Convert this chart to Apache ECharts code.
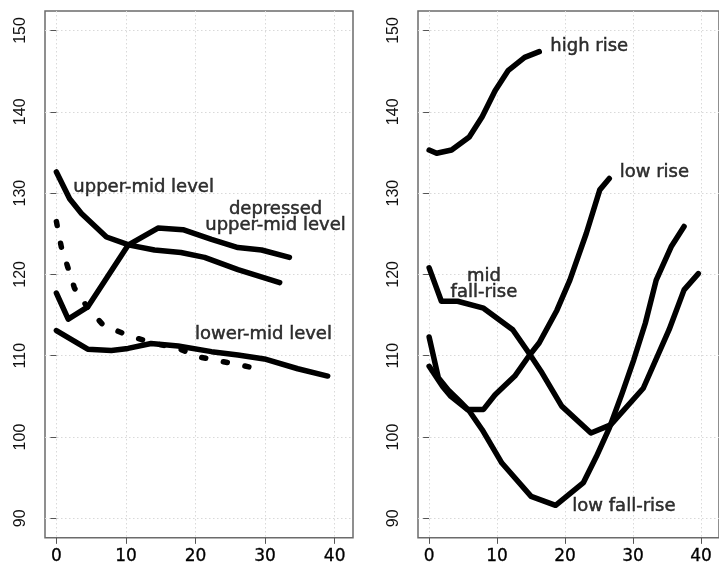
<!DOCTYPE html>
<html><head><meta charset="utf-8">
<script src="https://cdn.jsdelivr.net/npm/echarts@6/dist/echarts.min.js"></script>
<style>html,body{margin:0;padding:0;background:#fff}#c{width:719px;height:565px}</style>
</head><body><div id="c"></div>
<script>
// ---- data ----
const xTicks = [0, 10, 20, 30, 40];
const yTicks = [90, 100, 110, 120, 130, 140, 150];

// left panel
const upperMidX = [0, 1.9, 3.6, 7.2, 10.5, 14.1, 17.9, 21.3, 26.1, 32.1];
const upperMidY = [132.6, 129.3, 127.5, 124.6, 123.6, 123.0, 122.7, 122.1, 120.6, 119.0];
const depressedX = [0, 1.7, 4.5, 10.3, 14.6, 18.2, 22.3, 26.1, 29.5, 33.5];
const depressedY = [117.7, 114.5, 116.0, 123.6, 125.7, 125.5, 124.3, 123.3, 123.0, 122.1];
const lowerMidX = [0, 4.5, 7.9, 10.3, 13.6, 17.5, 22.3, 26.1, 29.9, 34.7, 39.0];
const lowerMidY = [113.1, 110.8, 110.65, 110.9, 111.5, 111.2, 110.5, 110.1, 109.6, 108.4, 107.5];
const dashedX = [0, 0.7, 1.6, 2.6, 4.5, 6.7, 10, 13.6, 17.5, 20.8, 24.4, 29];
const dashedY = [126.5, 123.4, 121.0, 118.3, 115.9, 113.8, 112.6, 111.6, 110.9, 109.8, 109.2, 108.4];

// right panel
const highRiseX = [0, 1.1, 3.3, 5.9, 7.8, 9.7, 11.65, 14.05, 16.2];
const highRiseY = [135.3, 134.9, 135.3, 136.9, 139.4, 142.6, 145.1, 146.7, 147.4];
const lowRiseX = [0, 2.0, 3.2, 5.6, 8.0, 9.7, 12.6, 14.7, 16.2, 18.8, 20.7, 23.1, 25.1, 26.5];
const lowRiseY = [108.7, 106.2, 105.0, 103.4, 103.4, 105.2, 107.5, 110.0, 111.6, 115.6, 119.3, 125.0, 130.4, 131.8];
const lowFallRiseX = [0, 1.35, 2.8, 4.5, 5.9, 7.8, 10.7, 15.0, 18.6, 22.7, 24.6, 26.5, 28.4, 30.1, 31.8, 33.4, 35.6, 37.5];
const lowFallRiseY = [112.3, 107.3, 105.8, 104.4, 103.2, 100.9, 96.8, 92.7, 91.6, 94.4, 97.6, 101.1, 105.4, 109.5, 114.0, 119.3, 123.4, 125.9];
const midFallRiseX = [0, 1.8, 4.2, 8.0, 12.3, 14.7, 16.6, 19.5, 23.8, 26.7, 31.5, 35.3, 37.5, 39.6];
const midFallRiseY = [120.8, 116.7, 116.7, 115.85, 113.2, 110.3, 107.9, 103.8, 100.5, 101.5, 106.0, 113.2, 118.1, 120.1];

// annotations (data coordinates)
const leftLabels = ['upper-mid level', 'depressed\nupper-mid level', 'lower-mid level'];
const leftLabelX = [12.54, 31.5, 29.76];
const leftLabelY = [130.74, 127.0, 112.6];
const rightLabels = ['high rise', 'low rise', 'mid\nfall-rise', 'low fall-rise'];
const rightLabelX = [23.55, 33.13, 8.06, 28.65];
const rightLabelY = [148.04, 132.58, 118.8, 91.47];

// ---- chart ----
const zip = (xs, ys) => xs.map((x, i) => [x, ys[i]]);
const X_MIN = -1.64, X_MAX = 42.64, Y_MIN = 87.6, Y_MAX = 152.4;
const gridLine = { show: true, lineStyle: { color: '#d9d9d9', type: [1.5, 2.5], width: 1 } };

function xAxisDef(g) {
  return {
    type: 'value', gridIndex: g, min: X_MIN, max: X_MAX,
    axisLine: { show: false },
    axisTick: { show: true, length: 6, customValues: xTicks, lineStyle: { color: '#555', width: 1 } },
    axisLabel: { customValues: xTicks, margin: 10, color: '#000', fontFamily: 'DejaVu Sans', fontSize: 17,
      textBorderColor: '#000', textBorderWidth: 0.3 },
    splitLine: gridLine
  };
}
function yAxisDef(g) {
  return {
    type: 'value', gridIndex: g, min: Y_MIN, max: Y_MAX,
    axisLine: { show: false },
    axisTick: { show: true, length: 6, customValues: yTicks, lineStyle: { color: '#555', width: 1 } },
    axisLabel: { customValues: yTicks, rotate: 90, margin: 16, color: '#111', fontFamily: 'Liberation Sans', fontSize: 16 },
    splitLine: gridLine
  };
}
function lineSeries(g, xs, ys, dashed) {
  return {
    type: 'line', xAxisIndex: g, yAxisIndex: g, data: zip(xs, ys),
    symbol: 'none', silent: true, z: 3,
    lineStyle: { color: '#000', width: 5.5, cap: 'round', join: 'round', type: dashed ? [4, 18] : 'solid' }
  };
}
function labelSeries(g, texts, xs, ys) {
  return {
    type: 'scatter', xAxisIndex: g, yAxisIndex: g, silent: true, z: 5,
    symbolSize: 0.1, itemStyle: { color: 'rgba(0,0,0,0)' },
    data: texts.map((t, i) => ({ name: t, value: [xs[i], ys[i]] })),
    label: { show: true, position: 'inside', formatter: '{b}', color: '#000',
      textBorderColor: '#000', textBorderWidth: 0.5, textShadowBlur: 0,
      fontFamily: 'DejaVu Sans', fontSize: 18, lineHeight: 16, align: 'center', verticalAlign: 'middle' }
  };
}

const chart = echarts.init(document.getElementById('c'), null, { renderer: 'canvas' });
chart.setOption({
  animation: false,
  backgroundColor: '#fff',
  grid: [
    { left: 45, top: 11, width: 308, height: 528, show: true, borderColor: '#6b6b6b', borderWidth: 1.5, backgroundColor: 'transparent' },
    { left: 418, top: 11, width: 308, height: 528, show: true, borderColor: '#6b6b6b', borderWidth: 1.5, backgroundColor: 'transparent' }
  ],
  xAxis: [xAxisDef(0), xAxisDef(1)],
  yAxis: [yAxisDef(0), yAxisDef(1)],
  series: [
    lineSeries(0, upperMidX, upperMidY),
    lineSeries(0, depressedX, depressedY),
    lineSeries(0, lowerMidX, lowerMidY),
    lineSeries(0, dashedX, dashedY, true),
    lineSeries(1, highRiseX, highRiseY),
    lineSeries(1, lowRiseX, lowRiseY),
    lineSeries(1, lowFallRiseX, lowFallRiseY),
    lineSeries(1, midFallRiseX, midFallRiseY),
    labelSeries(0, leftLabels, leftLabelX, leftLabelY),
    labelSeries(1, rightLabels, rightLabelX, rightLabelY)
  ]
});
</script></body></html>
